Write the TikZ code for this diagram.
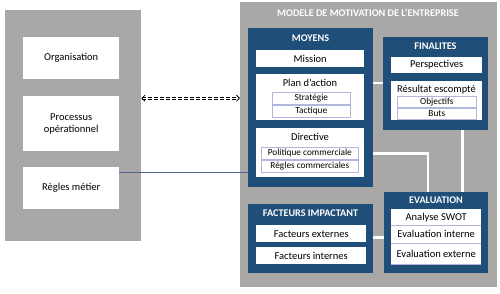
\documentclass[tikz,border=0pt]{standalone}
\usepackage{fontspec}
\setmainfont{Carlito}
\usepackage{tikz}
\usetikzlibrary{arrows.meta}
\definecolor{PanelGray}{RGB}{170,167,167}
\definecolor{MotBlue}{RGB}{31,78,121}
\definecolor{SubLine}{RGB}{178,182,222}
\definecolor{RuleBlue}{RGB}{82,102,150}

\begin{document}
\begin{tikzpicture}[x=1pt,y=-1pt,
  sz/.style 2 args={minimum width=#1pt,minimum height=#2pt},
  panel/.style={fill=PanelGray,anchor=north west,inner sep=0pt},
  bluebox/.style={fill=MotBlue,anchor=north west,inner sep=0pt},
  whitebox/.style={fill=white,anchor=north west,inner sep=0pt,font=\fontsize{10.5}{12}\selectfont},
  subbox/.style={fill=white,draw=SubLine,line width=0.6pt,anchor=north west,inner sep=0pt,font=\fontsize{9.3}{10}\selectfont},
  boxtitle/.style={inner sep=0pt,font=\fontsize{10.5}{12}\selectfont},
  head/.style={text=white,inner sep=0pt,font=\bfseries\fontsize{10.2}{12}\selectfont},
  link/.style={draw=white,line width=2.5pt},
  ruleline/.style={draw=RuleBlue,line width=0.8pt},
  dasharrow/.style={draw=black,double=white,double distance=1.1pt,line width=0.8pt,dash pattern=on 4pt off 2pt,
    {Straight Barb[length=3pt]}-{Straight Barb[length=3pt]}},
]
  \useasboundingbox (0,0) rectangle (500,293);

  % left side
  \node[panel,sz={136}{231}] (left) at (5,10) {};
  \foreach \name/\y/\h/\txt in {org/37/42/Organisation, proc/96/55/{Processus\\opérationnel}, regles/167/42/Règles métier}
    \node[whitebox,align=center,sz={96}{\h}] (\name) at (23,\y) {\txt};

  % motivation model
  \node[panel,sz={257}{285}] (right) at (240,2) {};
  \node[head] (title) at (368,13) {MODELE DE MOTIVATION DE L’ENTREPRISE};

  \node[bluebox,sz={125}{159}] (moy) at (248,28) {};
  \node[head] (moyhead) at (310.5,38.5) {MOYENS};
  \node[whitebox,sz={108}{17}] (mission) at (256,50) {Mission};
  \node[whitebox,sz={108}{46}] (plan) at (256,74) {};
  \node[boxtitle] (plantxt) at (310,83) {Plan d’action};
  \node[subbox,sz={78}{12}] (strat) at (272,92) {Stratégie};
  \node[subbox,sz={78}{12}] (tact) at (272,105) {Tactique};
  \node[whitebox,sz={108}{49}] (dir) at (256,128) {};
  \node[boxtitle] (dirtxt) at (310,137) {Directive};
  \node[subbox,sz={97}{12}] (pol) at (261,147) {Politique commerciale};
  \node[subbox,sz={97}{12}] (rc) at (261,160) {Règles commerciales};

  \node[bluebox,sz={105}{93}] (fin) at (383,37) {};
  \node[head] (finhead) at (435.5,46) {FINALITES};
  \node[whitebox,sz={91}{16}] (persp) at (391,57) {Perspectives};
  \node[whitebox,sz={91}{39}] (res) at (391,81) {};
  \node[boxtitle] (restxt) at (436.5,90) {Résultat escompté};
  \node[subbox,sz={79}{11}] (obj) at (397,96) {Objectifs};
  \node[subbox,sz={79}{11}] (buts) at (397,108) {Buts};

  \node[bluebox,sz={104}{81}] (eval) at (384,192) {};
  \node[head] (evalhead) at (436,200) {EVALUATION};
  \node[whitebox,sz={90}{16}] (swot) at (391,209) {Analyse SWOT};
  \node[whitebox,sz={90}{18}] (evint) at (391,225) {Evaluation interne};
  \node[whitebox,sz={90}{21}] (evext) at (391,243) {Evaluation externe};
  \draw[SubLine,line width=0.6pt] (evint.north west) -- (evint.north east)
    (evext.north west) -- (evext.north east) (evext.south west) -- (evext.south east);

  \node[bluebox,sz={125}{69}] (fac) at (248,204) {};
  \node[head] (fachead) at (310.5,213) {FACTEURS IMPACTANT};
  \node[whitebox,sz={110}{17}] (fext) at (256,225) {Facteurs externes};
  \node[whitebox,sz={110}{17}] (fint) at (256,247) {Facteurs internes};

  % connectors
  \draw[link] (plantxt -| moy.east) -- (plantxt -| fin.west);
  \draw[link] (pol -| moy.east) -| ([xshift=44pt]eval.north west);
  \draw[link] ([xshift=-26pt]fin.south east) -- ([xshift=-26pt]eval.north east);
  \coordinate (fl) at ([yshift=-4pt]fext.east);
  \draw[link] (fl -| fac.east) -- (fl -| eval.west);

  \coordinate (rm) at ([yshift=-5pt]regles.north east);
  \draw[ruleline] (rm) -- (rm -| moy.west);
  \coordinate (da) at ([yshift=27.5pt]left.east);
  \draw[dasharrow] (da) -- (da -| right.west);
\end{tikzpicture}
\end{document}
